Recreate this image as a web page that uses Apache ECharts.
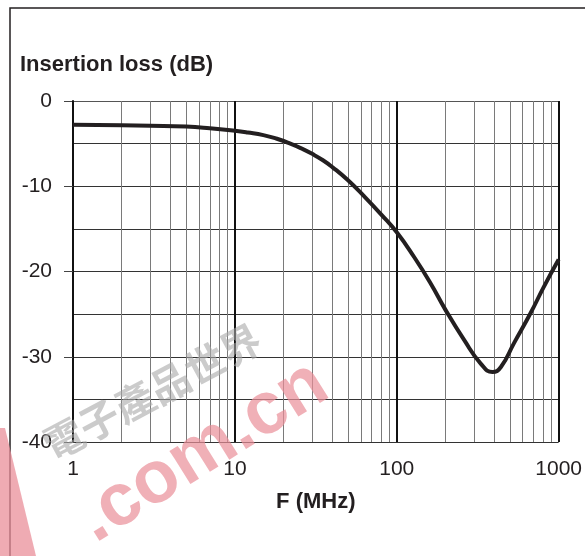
<!DOCTYPE html>
<html>
<head>
<meta charset="utf-8">
<script src="https://cdn.jsdelivr.net/npm/echarts@6/dist/echarts.min.js"></script>
<style>
  html, body { margin: 0; padding: 0; background: #fff; }
  #chart { width: 585px; height: 556px; }
</style>
</head>
<body>
<div id="chart"></div>
<script>
// Insertion loss curve
let freqMHz = [1, 2, 3, 5, 7, 10, 12, 15, 18, 22, 26, 30, 35, 40, 50, 63, 80, 100, 128, 162, 200, 260, 330, 390, 440, 530, 670, 810, 1000];
let lossDb = [-2.8, -2.85, -2.9, -3.0, -3.2, -3.5, -3.7, -4.0, -4.4, -5.0, -5.6, -6.2, -6.95, -7.75, -9.3, -11.2, -13.3, -15.4, -18.3, -21.4, -24.5, -28.0, -30.8, -31.8, -31.2, -28.4, -24.9, -21.8, -18.6];

// minor (gray) vertical grid lines between decades
let minorFreqs = [2, 3, 4, 5, 6, 7, 8, 9, 20, 30, 40, 50, 60, 70, 80, 90, 200, 300, 400, 500, 600, 700, 800, 900];

let font = "'Liberation Sans', Arial, sans-serif";
let deg = Math.PI / 180;

let chart = echarts.init(document.getElementById("chart"), null, { renderer: "canvas" });

chart.setOption({
  animation: false,
  backgroundColor: "#fff",
  grid: { left: 73, right: 23, top: 101, bottom: 114, containLabel: false },
  xAxis: {
    type: "log",
    logBase: 10,
    min: 1,
    max: 1000,
    name: "F (MHz)",
    nameLocation: "middle",
    nameGap: 49,
    nameTextStyle: { fontFamily: font, fontWeight: "bold", fontSize: 22, color: "#231f20" },
    axisLine: { show: true, lineStyle: { color: "#555", width: 1 } },
    axisTick: { show: true, length: 9, lineStyle: { color: "#111", width: 2 } },
    axisLabel: {
      margin: 17,
      fontFamily: font,
      fontSize: 21,
      color: "#231f20",
      formatter: (v) => String(Math.round(v))
    },
    splitLine: { show: true, lineStyle: { color: "#111", width: 2 } }
  },
  yAxis: {
    type: "value",
    min: -40,
    max: 0,
    interval: 10,
    axisLine: { show: true, lineStyle: { color: "#111", width: 2 } },
    axisTick: { show: true, length: 9, lineStyle: { color: "#444", width: 1 } },
    axisLabel: { margin: 21, fontFamily: font, fontSize: 21, color: "#231f20" },
    splitLine: { show: true, lineStyle: { color: "#333", width: 1 } },
    minorTick: { show: false, splitNumber: 2 },
    minorSplitLine: { show: true, lineStyle: { color: "#333", width: 1 } }
  },
  series: [
    {
      type: "line",
      data: freqMHz.map((f, i) => [f, lossDb[i]]),
      smooth: 0.5,
      symbol: "none",
      z: 5,
      lineStyle: { color: "#231f20", width: 4 },
      markLine: {
        silent: true,
        symbol: "none",
        label: { show: false },
        lineStyle: { color: "#7a7a7a", width: 1, type: "solid" },
        data: minorFreqs.map((f) => ({ xAxis: f }))
      }
    }
  ],
  graphic: [
    // frame of the figure box
    {
      type: "polyline",
      shape: { points: [[10, 556], [10, 8], [585, 8]] },
      style: { stroke: "#231f20", lineWidth: 1.5, fill: null }
    },
    {
      type: "text",
      left: 20,
      top: 54,
      style: { text: "Insertion loss (dB)", font: "bold 22px " + font, fill: "#231f20" }
    },
    // watermark
    {
      type: "polygon",
      shape: { points: [[0, 428], [5, 428], [36, 556], [0, 556]] },
      style: { fill: "#ea8f99", opacity: 0.75 },
      z: 10
    },
    {
      type: "text",
      x: 152,
      y: 392,
      rotation: 28 * deg,
      style: {
        text: "電子產品世界",
        font: "bold 40px 'Noto Sans CJK TC'",
        fill: "#a8a8a8",
        opacity: 0.6,
        align: "center",
        verticalAlign: "middle"
      },
      z: 10
    },
    {
      type: "text",
      x: 203,
      y: 452,
      rotation: 32 * deg,
      style: {
        text: ".com.cn",
        font: "bold 74px " + font,
        fill: "#ea8f99",
        opacity: 0.7,
        align: "center",
        verticalAlign: "middle"
      },
      z: 10
    }
  ]
});
</script>
</body>
</html>
